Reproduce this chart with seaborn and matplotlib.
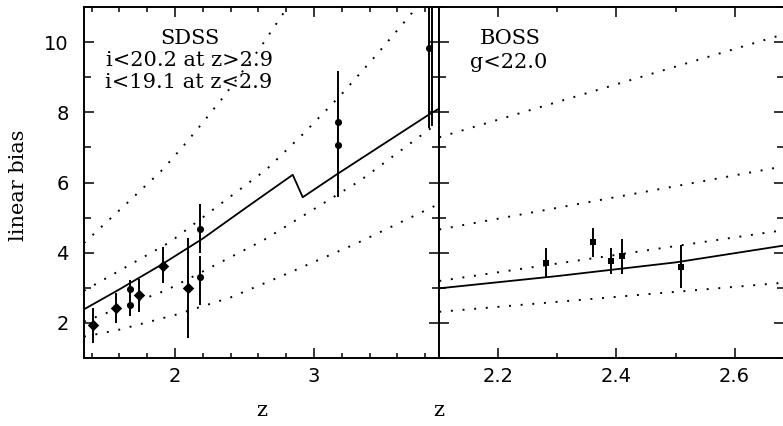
import numpy as np
import pandas as pd
import matplotlib
matplotlib.use("Agg")
import matplotlib.pyplot as plt
import seaborn as sns
from matplotlib.ticker import MultipleLocator

# ---------------- data ----------------
# SDSS panel: model curve (solid)
sdss_model_z = [1.345, 1.6, 1.9, 2.2, 2.5, 2.847, 2.919, 3.163, 3.835, 3.905]
sdss_model_b = [2.38, 2.95, 3.65, 4.40, 5.25, 6.22, 5.58, 6.23, 7.96, 8.12]
# SDSS panel: dotted curves
sdss_dotA_z = [1.345, 1.676, 1.909, 2.06, 2.204, 2.348, 2.612, 2.80, 2.81]
sdss_dotA_b = [4.27, 5.49, 6.36, 7.04, 7.73, 8.44, 9.84, 10.95, 11.0]
sdss_dotB_z = [1.345, 1.964, 2.66, 2.923, 3.187, 3.451, 3.703, 3.71]
sdss_dotB_b = [2.91, 4.30, 6.38, 7.39, 8.47, 9.65, 10.83, 11.0]
sdss_dotC_z = [1.345, 1.94, 2.635, 3.331, 3.905]
sdss_dotC_b = [2.03, 2.93, 4.35, 6.05, 7.74]
sdss_dotD_z = [1.345, 1.6, 2.0, 2.4, 2.755, 3.3, 3.905]
sdss_dotD_b = [1.60, 1.80, 2.22, 2.72, 3.31, 4.25, 5.40]
# SDSS diamonds
sdss_dia_z = [1.408, 1.573, 1.739, 1.916, 2.096]
sdss_dia_b = [1.93, 2.41, 2.79, 3.62, 2.98]
sdss_dia_lo = [0.52, 0.41, 0.48, 0.50, 1.42]
sdss_dia_hi = [0.48, 0.43, 0.47, 0.54, 1.45]
# SDSS circles
sdss_cir_z = [1.676, 1.676, 2.18, 2.18, 3.17, 3.17, 3.825, 3.848]
sdss_cir_b = [2.96, 2.50, 4.68, 3.29, 7.74, 7.08, 9.84, 11.8]
sdss_cir_lo = [0.26, 0.30, 0.68, 0.79, 1.24, 1.50, 2.28, 4.20]
sdss_cir_hi = [0.27, 0.28, 0.71, 0.61, 1.45, 1.32, 2.50, 1.00]

# BOSS panel
boss_model_z = [2.1, 2.3, 2.5, 2.683]
boss_model_b = [2.98, 3.33, 3.72, 4.20]
boss_dotE_z = [2.1, 2.683]
boss_dotE_b = [7.29, 10.23]
boss_dotF_z = [2.1, 2.683]
boss_dotF_b = [4.66, 6.46]
boss_dotG_z = [2.1, 2.683]
boss_dotG_b = [3.19, 4.64]
boss_dotH_z = [2.1, 2.683]
boss_dotH_b = [2.31, 3.14]
boss_z = [2.28, 2.36, 2.39, 2.41, 2.51]
boss_b = [3.71, 4.30, 3.75, 3.90, 3.59]
boss_lo = [0.40, 0.42, 0.36, 0.51, 0.61]
boss_hi = [0.41, 0.40, 0.37, 0.50, 0.62]

# ---------------- style ----------------
sns.set_style("ticks")
plt.rcParams["font.family"] = ["DejaVu Sans"]
for key in ["text.color", "axes.labelcolor", "xtick.color", "ytick.color",
            "axes.edgecolor"]:
    plt.rcParams[key] = "black"

W, H = 783, 426
fig = plt.figure(figsize=(W / 100, H / 100), dpi=100)

def fx(px):
    return px / W

def fy(py):
    return 1 - py / H

top_px, bot_px = 7.3, 357.7
div_px = 439.3
axL = fig.add_axes([fx(84), fy(bot_px), fx(div_px) - fx(84), fy(top_px) - fy(bot_px)])
axR = fig.add_axes([fx(div_px), fy(bot_px), fx(784) - fx(div_px), fy(top_px) - fy(bot_px)])

dot_ls = (0, (1.0, 5.0))

def curve(ax, z, b, ls="-", lw=1.3):
    sns.lineplot(x=z, y=b, ax=ax, color="black", linestyle=ls, lw=lw,
                 sort=False, estimator=None, legend=False)

def points(ax, z, b, lo, hi, marker, size):
    ax.errorbar(z, b, yerr=[lo, hi], fmt="none", ecolor="black",
                elinewidth=1.4, capsize=0, zorder=3)
    sns.scatterplot(x=z, y=b, ax=ax, marker=marker, s=size, color="black",
                    edgecolor="black", linewidth=0, zorder=4, legend=False)

# left (SDSS)
curve(axL, sdss_model_z, sdss_model_b)
for zz, bb in [(sdss_dotA_z, sdss_dotA_b), (sdss_dotB_z, sdss_dotB_b),
               (sdss_dotC_z, sdss_dotC_b), (sdss_dotD_z, sdss_dotD_b)]:
    curve(axL, zz, bb, ls=dot_ls, lw=1.4)
points(axL, sdss_dia_z, sdss_dia_b, sdss_dia_lo, sdss_dia_hi, "D", 34)
points(axL, sdss_cir_z, sdss_cir_b, sdss_cir_lo, sdss_cir_hi, "o", 26)

# right (BOSS)
curve(axR, boss_model_z, boss_model_b)
for zz, bb in [(boss_dotE_z, boss_dotE_b), (boss_dotF_z, boss_dotF_b),
               (boss_dotG_z, boss_dotG_b), (boss_dotH_z, boss_dotH_b)]:
    curve(axR, zz, bb, ls=dot_ls, lw=1.4)
points(axR, boss_z, boss_b, boss_lo, boss_hi, "s", 24)

axL.set_xlim(1.3453, 3.9014)
axR.set_xlim(2.1, 2.6836)
for ax in (axL, axR):
    ax.set_ylim(1, 11)
    ax.yaxis.set_major_locator(MultipleLocator(2))
    ax.yaxis.set_minor_locator(MultipleLocator(1))
    ax.set_xlabel("")
    ax.set_ylabel("")
    for sp in ax.spines.values():
        sp.set_visible(True)
        sp.set_linewidth(1.4)
        sp.set_color("black")
    ax.tick_params(which="both", direction="in", top=True, right=True,
                   color="black", labelcolor="black", width=1.1, labelsize=14)
    ax.tick_params(axis="x", which="major", length=7, pad=7)
    ax.tick_params(axis="x", which="minor", length=3.5)
    ax.tick_params(axis="y", which="major", length=7, pad=11)
    ax.tick_params(axis="y", which="minor", length=5)

axL.xaxis.set_major_locator(MultipleLocator(1))
axL.xaxis.set_minor_locator(MultipleLocator(0.2))
axR.xaxis.set_major_locator(MultipleLocator(0.2))
axR.xaxis.set_minor_locator(MultipleLocator(0.1))
axR.tick_params(axis="y", labelleft=False)
axR.xaxis.set_major_formatter(matplotlib.ticker.FormatStrFormatter("%.1f"))

serif = ["DejaVu Serif"]
fig.text(fx(190), fy(38), "SDSS", ha="center", va="center", fontsize=15, family=serif)
fig.text(fx(189), fy(61), "i<20.2 at z>2.9", ha="center", va="center", fontsize=15, family=serif)
fig.text(fx(189), fy(83), "i<19.1 at z<2.9", ha="center", va="center", fontsize=15, family=serif)
fig.text(fx(510), fy(38), "BOSS", ha="center", va="center", fontsize=15, family=serif)
fig.text(fx(509), fy(62), "g<22.0", ha="center", va="center", fontsize=15, family=serif)

fig.text(fx(19), fy(185), "linear bias", rotation=90, ha="center", va="center",
         fontsize=15, family=serif)
fig.text(fx(262), fy(410), "z", ha="center", va="center", fontsize=15, family=serif)
fig.text(fx(439), fy(410), "z", ha="center", va="center", fontsize=15, family=serif)

fig.savefig("out.png", dpi=100, facecolor="white")
